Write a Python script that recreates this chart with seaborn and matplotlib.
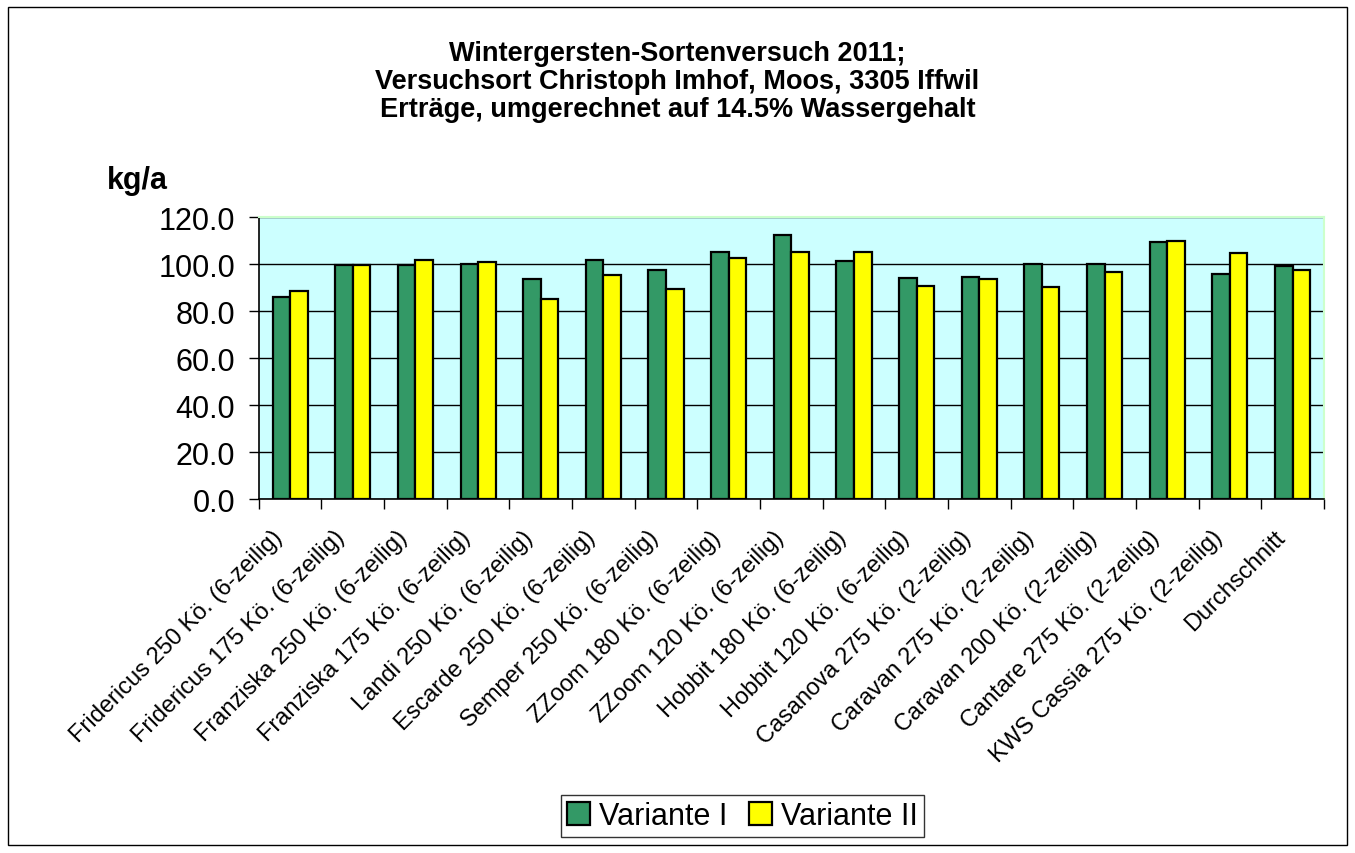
import pandas as pd
import matplotlib.pyplot as plt
import matplotlib.transforms as mtransforms
import seaborn as sns
from matplotlib.patches import Rectangle

# Sorten und Erträge (kg/a)
sorten = [
    "Fridericus 250 Kö. (6-zeilig)",
    "Fridericus 175 Kö. (6-zeilig)",
    "Franziska 250 Kö. (6-zeilig)",
    "Franziska 175 Kö. (6-zeilig)",
    "Landi 250 Kö. (6-zeilig)",
    "Escarde 250 Kö. (6-zeilig)",
    "Semper 250 Kö. (6-zeilig)",
    "ZZoom 180 Kö. (6-zeilig)",
    "ZZoom 120 Kö. (6-zeilig)",
    "Hobbit 180 Kö. (6-zeilig)",
    "Hobbit 120 Kö. (6-zeilig)",
    "Casanova 275 Kö. (2-zeilig)",
    "Caravan 275 Kö. (2-zeilig)",
    "Caravan 200 Kö. (2-zeilig)",
    "Cantare 275 Kö. (2-zeilig)",
    "KWS Cassia 275 Kö. (2-zeilig)",
    "Durchschnitt",
]
variante_1 = [86.0, 99.4, 99.4, 100.1, 93.8, 101.8, 97.3, 105.3, 112.4,
              101.1, 94.1, 94.5, 99.8, 100.1, 109.2, 95.8, 99.3]
variante_2 = [88.7, 99.4, 101.5, 100.8, 85.0, 95.5, 89.5, 102.5, 105.3,
              105.3, 90.7, 93.8, 90.1, 96.4, 109.9, 104.5, 97.5]
varianten = ["Variante I", "Variante II"]
farben = ["#339966", "#FFFF00"]
y_ticks = [0, 20, 40, 60, 80, 100, 120]

df = pd.DataFrame({
    "Sorte": sorten * 2,
    "Ertrag": variante_1 + variante_2,
    "Variante": [varianten[0]] * len(sorten) + [varianten[1]] * len(sorten),
})

sns.set_style("ticks")
plt.rcParams['font.family'] = ['Liberation Sans', 'DejaVu Sans']
plt.rcParams['text.color'] = 'black'
plt.rcParams['xtick.color'] = 'black'
plt.rcParams['ytick.color'] = 'black'

fig = plt.figure(figsize=(13.55, 8.54), dpi=100)
ax = fig.add_axes([0.191, 0.4145, 0.786, 0.3302])

sns.barplot(data=df, x="Sorte", y="Ertrag", hue="Variante", palette=farben,
            width=0.56, edgecolor="black", linewidth=1.6, saturation=1,
            ax=ax, zorder=3)

ax.set_facecolor("#CCFFFF")
ax.set_ylim(0, 120)
ax.set_xlim(-0.5, len(sorten) - 0.5)
ax.set_yticks(y_ticks)
ax.set_yticklabels([f"{v:.1f}" for v in y_ticks], fontsize=22)
ax.yaxis.grid(True, color="black", linewidth=1.0, zorder=0)
ax.set_axisbelow(True)

# x-Ticks an den Kategoriegrenzen, Beschriftung in der Mitte
ax.set_xticks([i for i in range(len(sorten))])
ax.set_xticklabels(sorten, rotation=45, ha="right", va="center",
                   rotation_mode="anchor", fontsize=17)
ax.tick_params(axis="x", length=0, pad=14)
offset = mtransforms.ScaledTranslation(-8 / 72, -11 / 72, fig.dpi_scale_trans)
for lbl in ax.get_xticklabels():
    lbl.set_transform(lbl.get_transform() + offset)
ax.set_xticks([i - 0.5 for i in range(len(sorten) + 1)], minor=True)
ax.tick_params(axis="x", which="minor", length=7, width=1, color="black", direction="out")
ax.tick_params(axis="y", length=7, width=1, color="black", direction="out", pad=10)

ax.set_xlabel("")
ax.set_ylabel("")
for s in ["left", "bottom"]:
    ax.spines[s].set_color("black")
    ax.spines[s].set_linewidth(1.2)
for s in ["top", "right"]:
    ax.spines[s].set_color("#CCFFCC")
    ax.spines[s].set_linewidth(1.5)

fig.text(0.5, 0.952, "Wintergersten-Sortenversuch 2011;\nVersuchsort Christoph Imhof, Moos, 3305 Iffwil\n"
         "Erträge, umgerechnet auf 14.5% Wassergehalt",
         ha="center", va="top", fontsize=19.5, fontweight="bold", linespacing=1.1)
fig.text(0.079, 0.788, "kg/a", ha="left", va="center", fontsize=22, fontweight="bold")

ax.legend_.remove()
handles, labels = ax.get_legend_handles_labels()
leg = fig.legend(handles, labels, loc="center", bbox_to_anchor=(0.548, 0.043), ncol=2,
                 fontsize=22, frameon=True, fancybox=False, edgecolor="black",
                 handlelength=0.75, handleheight=0.75, handletextpad=0.3,
                 columnspacing=0.7, borderpad=0.2, borderaxespad=0)
leg.get_frame().set_linewidth(1.0)

fig.patches.append(Rectangle((0.006, 0.009), 0.988, 0.982, transform=fig.transFigure,
                             fill=False, edgecolor="black", linewidth=1.0))

plt.savefig("out.png", dpi=100)
